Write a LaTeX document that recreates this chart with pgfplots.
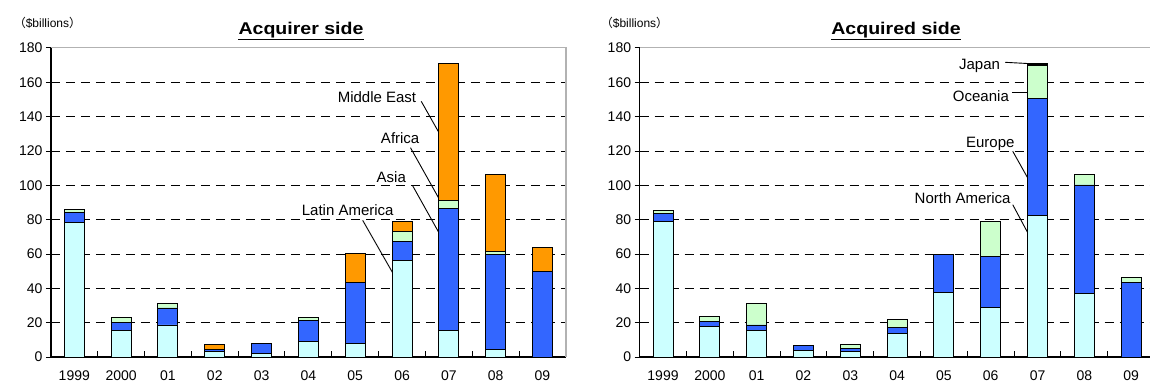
\documentclass[border=0pt]{standalone}
\usepackage{fontspec}
\setmainfont{Liberation Sans}
\newfontfamily\cjk{Noto Sans CJK JP}
\usepackage{pgfplots}
\pgfplotsset{compat=1.18}
\definecolor{cLA}{HTML}{CCFFFF}
\definecolor{cAS}{HTML}{3366FF}
\definecolor{cAF}{HTML}{CCFFCC}
\definecolor{cME}{HTML}{FF9900}
\newcommand{\fs}[1]{\fontsize{#1}{#1}\selectfont}
\pgfplotsset{mystyle/.style={
  scale only axis, width=515pt, height=309.2pt, anchor=south west,
  ybar stacked, bar width=20pt,
  xmin=-0.5, xmax=10.5, ymin=0, ymax=180,
  axis x line*=bottom, axis y line*=left,
  axis line style={-, black, line width=1.2pt},
  xtick={0,1,...,10},
  xticklabels={1999,2000,01,02,03,04,05,06,07,08,09},
  major tick length=5pt, tick align=outside,
  x tick style={draw=none},
  ytick={0,20,...,180},
  ymajorgrids, grid style={black, line width=0.9pt, dash pattern=on 9pt off 6pt},
  tick style={black, line width=0.9pt},
  /pgf/number format/assume math mode=true,
  tick label style={font=\fs{14}},
  xticklabel style={yshift=-5pt},
  every axis plot/.append style={draw=black, line width=0.9pt},
  clip=false,
}}
\begin{document}
\begin{tikzpicture}[x=1pt,y=1pt]
% ---------------- Acquirer side ----------------
\begin{axis}[mystyle, at={(50.9pt,29.9pt)}]
\addplot[fill=cLA] coordinates {(0,78.3) (1,15.5) (2,18.7) (3,3.5) (4,2.3) (5,9.3) (6,7.8) (7,56.5) (8,15.7) (9,4.7) (10,0)};
\addplot[fill=cAS] coordinates {(0,5.8) (1,4.5) (2,9.9) (3,0.8) (4,5.6) (5,12.2) (6,35.7) (7,10.6) (8,70.9) (9,55.1) (10,50.1)};
\addplot[fill=cAF] coordinates {(0,1.7) (1,3.3) (2,2.7) (3,0) (4,0) (5,1.4) (6,0) (7,6.3) (8,4.8) (9,1.5) (10,0)};
\addplot[fill=cME] coordinates {(0,0) (1,0) (2,0) (3,2.8) (4,0) (5,0) (6,16.9) (7,5.4) (8,79.6) (9,45.1) (10,13.9)};
\draw[gray!60, line width=1.2pt] (rel axis cs:0,1) -- (rel axis cs:1,1) -- (rel axis cs:1,0);
\node[font=\fs{15}] at (axis cs:6.465,151.2) {Middle East};
\draw[line width=0.9pt] (axis cs:7.41,148.9) -- (axis cs:7.85,127.7);
\node[font=\fs{15}] at (axis cs:6.96,127.2) {Africa};
\draw[line width=0.9pt] (axis cs:7.18,121.9) -- (axis cs:7.85,89.3);
\node[font=\fs{15}] at (axis cs:6.77,104.8) {Asia};
\draw[line width=0.9pt] (axis cs:7.23,99.6) -- (axis cs:7.87,68.4);
\node[font=\fs{15}] at (axis cs:5.84,85.8) {Latin America};
\draw[line width=0.9pt] (axis cs:6.16,79.6) -- (axis cs:6.86,46.2);
\end{axis}
% ---------------- Acquired side ----------------
\begin{axis}[mystyle, at={(639.6pt,29.9pt)}]
\addplot[fill=cLA] coordinates {(0,79.2) (1,17.8) (2,15.5) (3,3.7) (4,3.5) (5,13.5) (6,37.7) (7,29.0) (8,82.4) (9,37.0) (10,0)};
\addplot[fill=cAS] coordinates {(0,4.3) (1,3.1) (2,3.2) (3,3.3) (4,1.5) (5,3.5) (6,21.8) (7,29.7) (8,67.9) (9,63.2) (10,43.2)};
\addplot[fill=cAF] coordinates {(0,2.1) (1,2.5) (2,12.4) (3,0) (4,2.5) (5,5.1) (6,0) (7,20.3) (8,19.4) (9,6.2) (10,3.2)};
\addplot[fill=black] coordinates {(0,0) (1,0) (2,0) (3,0) (4,0) (5,0) (6,0) (7,0) (8,1.0) (9,0) (10,0)};
\draw[gray!60, line width=1.2pt] (rel axis cs:0,1) -- (rel axis cs:1,1) -- (rel axis cs:1,0);
\node[font=\fs{15}] at (axis cs:6.76,169.7) {Japan};
\draw[line width=0.9pt] (axis cs:7.31,171.6) -- (axis cs:7.93,170.7);
\node[font=\fs{15}] at (axis cs:6.79,152.2) {Oceania};
\draw[line width=0.9pt] (axis cs:7.45,153.8) -- (axis cs:7.82,153.8);
\node[font=\fs{15}] at (axis cs:6.99,124.2) {Europe};
\draw[line width=0.9pt] (axis cs:7.47,119.8) -- (axis cs:7.89,99.4);
\node[font=\fs{15}] at (axis cs:6.40,92.6) {North America};
\draw[line width=0.9pt] (axis cs:7.47,88.7) -- (axis cs:7.89,67.3);
\end{axis}
% category boundary ticks
\foreach \t in {1,...,10} {
  \draw[line width=1pt, black] ({50.9+\t*46.818},29.9) -- ++(0,6.5);
  \draw[line width=1pt, black] ({639.6+\t*46.818},29.9) -- ++(0,6.5);
}
% titles
\node[font=\fs{12}, inner sep=0pt] at (47.5,364.5) {{\cjk （}\$billions{\cjk ）}};
\node[font=\fs{12}, inner sep=0pt] at (634.5,364) {{\cjk （}\$billions{\cjk ）}};
\node[font=\bfseries\fs{17}, inner sep=0pt] (t1) at (301,357) {\scalebox{1.15}[1]{Acquirer side}};
\draw[line width=1.2pt] ([yshift=-1.5pt]t1.south west) -- ([yshift=-1.5pt]t1.south east);
\node[font=\bfseries\fs{17}, inner sep=0pt] (t2) at (896,357) {\scalebox{1.15}[1]{Acquired side}};
\draw[line width=1.2pt] ([yshift=-1.5pt]t2.south west) -- ([yshift=-1.5pt]t2.south east);
\pgfresetboundingbox
\useasboundingbox (0,0) rectangle (1150,387);
\end{tikzpicture}
\end{document}
